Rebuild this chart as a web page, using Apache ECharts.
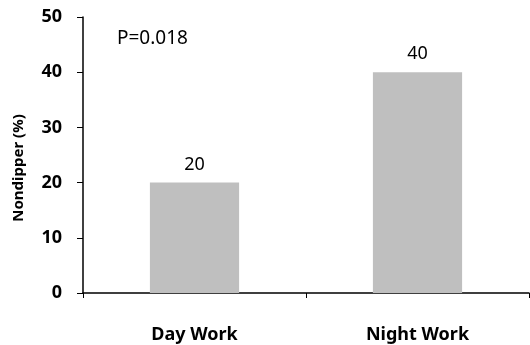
<!DOCTYPE html>
<html><head><meta charset="utf-8">
<script src="https://cdn.jsdelivr.net/npm/echarts@6/dist/echarts.min.js"></script>
<style>html,body{margin:0;padding:0;background:#fff}#c{width:530px;height:345px}</style>
</head><body><div id="c"></div>
<script>
const categories = ['Day Work', 'Night Work'];
const values = [20, 40];
const yTicks = [0, 10, 20, 30, 40, 50];
const annotation = 'P=0.018';
const yName = 'Nondipper (%)';

const chart = echarts.init(document.getElementById('c'), null, {renderer: 'canvas'});
chart.setOption({
  animation: false,
  textStyle: {fontFamily: 'Noto Sans'},
  grid: {left: 83, right: 1, top: 17, bottom: 52},
  title: {
    text: annotation, left: 112, top: 24,
    textStyle: {fontSize: 19, fontWeight: 'normal', color: '#000', fontFamily: 'Noto Sans'}
  },
  xAxis: {
    type: 'category', data: categories,
    axisLine: {lineStyle: {color: '#000', width: 1.5}},
    axisTick: {show: true, length: 5, lineStyle: {color: '#000'}},
    axisLabel: {fontSize: 18, fontWeight: 'bold', color: '#000', margin: 33}
  },
  yAxis: {
    type: 'value', min: yTicks[0], max: yTicks[yTicks.length - 1], interval: 10,
    name: yName, nameLocation: 'middle', nameGap: 57, nameRotate: 90,
    nameTextStyle: {fontSize: 15, fontWeight: 'bold', color: '#000', padding: [0, 26, 0, 0]},
    axisLine: {show: true, lineStyle: {color: '#000', width: 1.5}},
    axisTick: {show: true, length: 6, lineStyle: {color: '#000'}},
    axisLabel: {fontSize: 18, fontWeight: 'bold', color: '#000', margin: 21},
    splitLine: {show: false}
  },
  series: [{
    type: 'bar', data: values, barWidth: '40%',
    itemStyle: {color: '#bfbfbf'},
    label: {show: true, position: 'top', distance: 9, fontSize: 18, color: '#000'}
  }]
});
</script></body></html>
